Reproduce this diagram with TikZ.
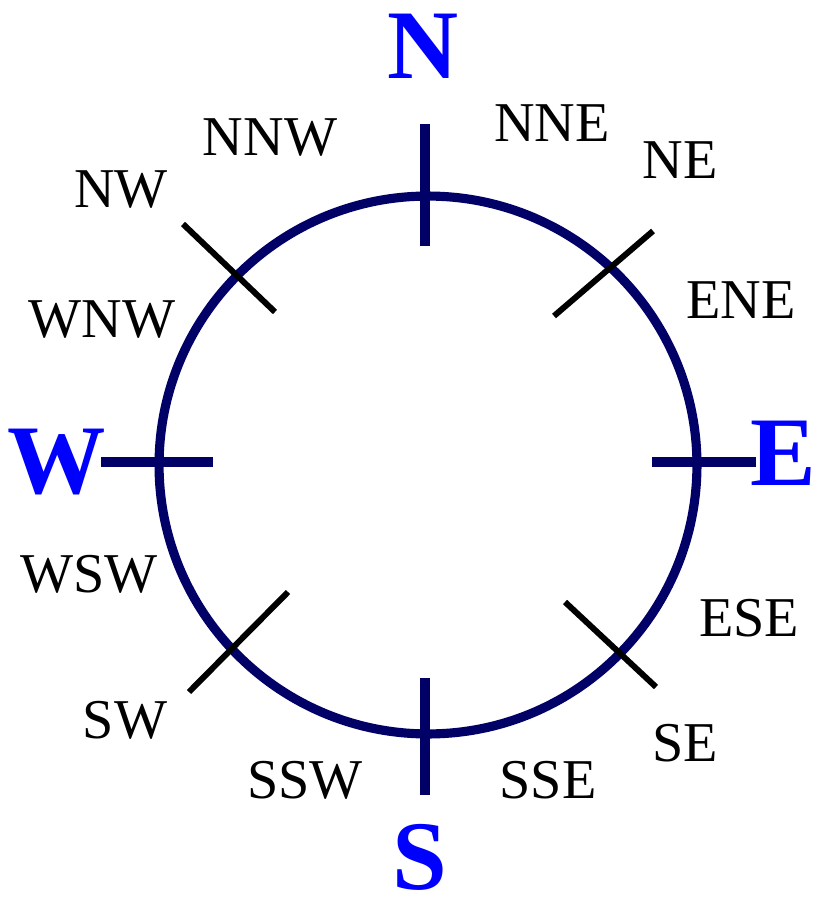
\documentclass[tikz,border=0pt]{standalone}
\usepackage{fontspec}
\setmainfont{Liberation Serif}
\usetikzlibrary{positioning}

\definecolor{ringnavy}{RGB}{0,0,102}
\definecolor{cardblue}{RGB}{0,0,255}

\begin{document}
\begin{tikzpicture}[x=0.02cm, y=-0.02cm,
  cardinal/.style={text=cardblue, inner sep=0pt, font=\fontsize{56}{56}\selectfont\bfseries},
  minor/.style={text=black, inner sep=0pt, font=\fontsize{32}{32}\selectfont},
  ring/.style={draw=ringnavy, line width=5.2pt},
  mainmark/.style={draw=ringnavy, line width=5.6pt},
  diagmark/.style={draw=black, line width=3.4pt}]
\useasboundingbox (0,0) rectangle (817,898);

% ring
\coordinate (ctr) at (428,465);
\draw[ring] (ctr) circle[radius=5.38cm];

% main marks
\coordinate (nTop) at (425,124);  \coordinate (nBot) at (425,246);
\coordinate (sTop) at (425,678);  \coordinate (sBot) at (425,795);
\coordinate (wOut) at (101,462);  \coordinate (wIn) at (213,462);
\coordinate (eIn) at (652,462);   \coordinate (eOut) at (756,462);
\draw[mainmark] (nTop) -- (nBot);
\draw[mainmark] (sTop) -- (sBot);
\draw[mainmark] (wOut) -- (wIn);
\draw[mainmark] (eIn) -- (eOut);

% diagonal marks
\coordinate (neIn) at (554,316);  \coordinate (neOut) at (653,231);
\coordinate (nwOut) at (183,224); \coordinate (nwIn) at (275,312);
\coordinate (swOut) at (189,692); \coordinate (swIn) at (288,592);
\coordinate (seIn) at (565,602);  \coordinate (seOut) at (656,687);
\draw[diagmark] (neIn) -- (neOut);
\draw[diagmark] (nwOut) -- (nwIn);
\draw[diagmark] (swOut) -- (swIn);
\draw[diagmark] (seIn) -- (seOut);

% cardinal letters
\node[cardinal] (north) at (423,46) {N};
\node[cardinal, anchor=east] (east) at (816,453) {E};
\node[cardinal, anchor=south] (south) at (420,891) {S};
\node[cardinal] (west) at (57,462) {W};

% intermediate labels
\node[minor] (nne) at (552,123) {NNE};
\node[minor] (ne) at (680,160) {NE};
\node[minor] (ene) at (741,300) {ENE};
\node[minor] (ese) at (749,618) {ESE};
\node[minor] (se) at (685,743) {SE};
\node[minor] (sse) at (548,780) {SSE};
\node[minor] (ssw) at (305,780) {SSW};
\node[minor] (sw) at (125,720) {SW};
\node[minor] (wsw) at (89,574) {WSW};
\node[minor] (wnw) at (102,320) {WNW};
\node[minor] (nw) at (121,190) {NW};
\node[minor] (nnw) at (270,138) {NNW};
\end{tikzpicture}
\end{document}
